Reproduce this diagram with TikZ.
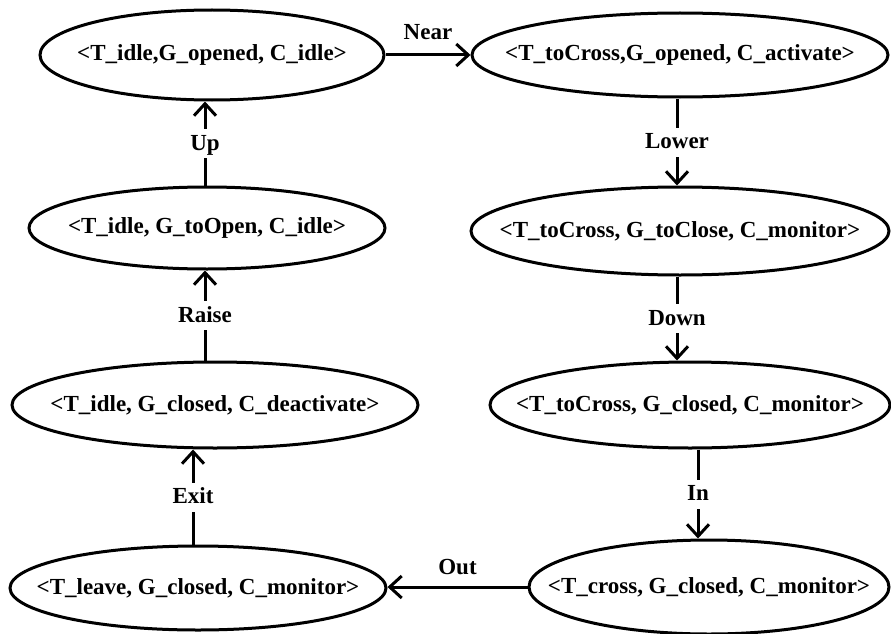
\documentclass[tikz,border=0pt]{standalone}
\usepackage{fontspec}
\setmainfont{Liberation Serif}
\usetikzlibrary{shapes.geometric,arrows.meta,positioning}

\begin{document}
\begin{tikzpicture}[x=1pt, y=-1pt,
  state/.style={ellipse, draw, line width=3pt, inner xsep=-60pt, inner ysep=0pt,
    font=\bfseries\fontsize{23}{26}\selectfont},
  trans/.style={line width=3pt, -{Straight Barb[length=12pt,width=22pt]}},
  tlabel/.style={font=\bfseries\fontsize{23}{26}\selectfont, fill=white,
    text height=16pt, text depth=3pt, inner xsep=2pt, inner ysep=5pt}]

\useasboundingbox (0,0) rectangle (891,634);

% Column positions of the vertical transitions
\coordinate (lcol) at (205,0);
\coordinate (lcolb) at (193,0);
\coordinate (rcol) at (677,0);
\coordinate (rcolb) at (698,0);

% Left column (train idle / leaving)
\node[state, minimum width=344pt, minimum height=90pt] (idleOpened) at (212,55) {<T\_idle,G\_opened, C\_idle>};
\node[state, minimum width=356pt, minimum height=82pt] (idleToOpen) at (207,228) {<T\_idle, G\_toOpen, C\_idle>};
\node[state, minimum width=406pt, minimum height=86pt] (idleDeact) at (215,405) {<T\_idle, G\_closed, C\_deactivate>};
\node[state, minimum width=376pt, minimum height=84pt] (leave) at (198,588) {<T\_leave, G\_closed, C\_monitor>};

% Right column (train approaching / crossing)
\node[state, minimum width=416pt, minimum height=84pt] (crossOpened) at (680,55) {<T\_toCross,G\_opened, C\_activate>};
\node[state, minimum width=418pt, minimum height=88pt] (toClose) at (680,231) {<T\_toCross, G\_toClose, C\_monitor>};
\node[state, minimum width=400pt, minimum height=86pt] (toCrossClosed) at (690,405) {<T\_toCross, G\_closed, C\_monitor>};
\node[state, minimum width=360pt, minimum height=94pt] (cross) at (709,587) {<T\_cross, G\_closed, C\_monitor>};

% Transitions
\draw[trans] (idleOpened.east) -- node[tlabel, fill=none, above=6pt] {Near} (idleOpened.east -| crossOpened.west);
\draw[trans] (crossOpened.south -| rcol) -- node[tlabel] {Lower} (toClose.north -| rcol);
\draw[trans] (toClose.south -| rcol) -- node[tlabel] {Down} (toCrossClosed.north -| rcol);
\draw[trans] (toCrossClosed.south -| rcolb) -- node[tlabel] {In} (cross.north -| rcolb);
\draw[trans] (cross.west) -- node[tlabel, fill=none, above=3pt] {Out} (cross.west -| leave.east);
\draw[trans] (leave.north -| lcolb) -- node[tlabel] {Exit} (idleDeact.south -| lcolb);
\draw[trans] (idleDeact.north -| lcol) -- node[tlabel] {Raise} (idleToOpen.south -| lcol);
\draw[trans] (idleToOpen.north -| lcol) -- node[tlabel] {Up} (idleOpened.south -| lcol);

\end{tikzpicture}
\end{document}
